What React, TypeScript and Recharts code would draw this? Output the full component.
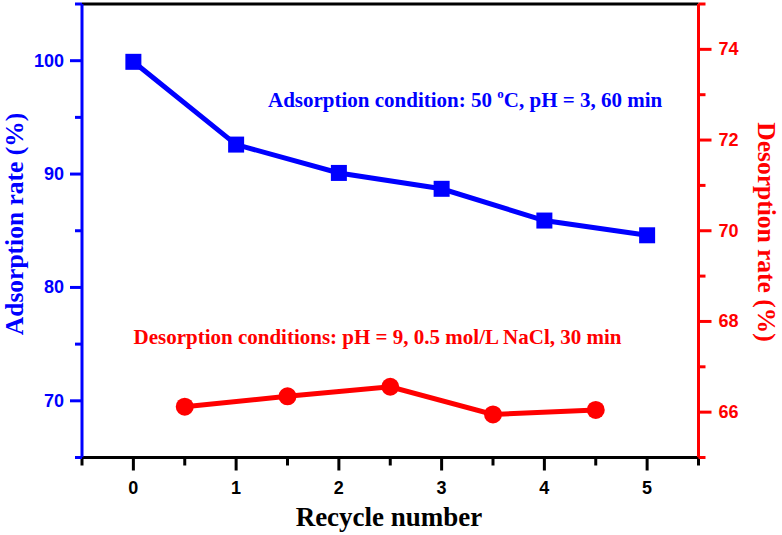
import { ComposedChart, XAxis, YAxis, Line, ReferenceLine } from "recharts";

// recycle test: adsorption (left axis) and desorption (right axis)
const cycles = [0, 1, 2, 3, 4, 5];
const adsorptionRate = [99.9, 92.6, 90.1, 88.7, 85.9, 84.6];
const desorptionCycles = [0.5, 1.5, 2.5, 3.5, 4.5];
const desorptionRate = [66.12, 66.35, 66.56, 65.95, 66.05];

const xTicks = [-0.5, 0, 0.5, 1, 1.5, 2, 2.5, 3, 3.5, 4, 4.5, 5, 5.5];
const xLabels = [0, 1, 2, 3, 4, 5];
const leftTicks = [65, 70, 75, 80, 85, 90, 95, 100, 105];
const leftLabels = [70, 80, 90, 100];
const rightTicks = [65, 66, 67, 68, 69, 70, 71, 72, 73, 74, 75];
const rightLabels = [66, 68, 70, 72, 74];

const BLUE = "#0000ff";
const RED = "#ff0000";
const SERIF = "'Liberation Serif', 'Times New Roman', serif";
const SANS = "'Liberation Sans', Arial, sans-serif";

const adsorptionData = cycles.map((x, i) => ({ x, value: adsorptionRate[i] }));
const desorptionData = desorptionCycles.map((x, i) => ({ x, value: desorptionRate[i] }));

const tickText = { fontFamily: SANS, fontWeight: 700, fontSize: 18 };

const XTick = (props: any) => {
  const { x, y, payload } = props;
  const major = xLabels.includes(payload.value);
  return (
    <g>
      <line x1={x} y1={y} x2={x} y2={y + (major ? 13 : 8)} stroke="#000" strokeWidth={3} />
      {major && (
        <text x={x} y={y + 30} textAnchor="middle" dominantBaseline="central" fill="#000" {...tickText}>
          {payload.value}
        </text>
      )}
    </g>
  );
};

const LeftTick = (props: any) => {
  const { x, y, payload } = props;
  const major = leftLabels.includes(payload.value);
  return (
    <g>
      <line x1={x} y1={y} x2={x - (major ? 12 : 7)} y2={y} stroke={BLUE} strokeWidth={3} />
      {major && (
        <text x={x - 18} y={y} textAnchor="end" dominantBaseline="central" fill={BLUE} {...tickText}>
          {payload.value}
        </text>
      )}
    </g>
  );
};

const RightTick = (props: any) => {
  const { x, y, payload } = props;
  const major = rightLabels.includes(payload.value);
  return (
    <g>
      <line x1={x} y1={y} x2={x + (major ? 13 : 7)} y2={y} stroke={RED} strokeWidth={3} />
      {major && (
        <text x={x + 20} y={y} textAnchor="start" dominantBaseline="central" fill={RED} {...tickText}>
          {payload.value}
        </text>
      )}
    </g>
  );
};

const SquareDot = (props: any) => {
  const { cx, cy, index } = props;
  return <rect key={`sq-${index}`} x={cx - 8} y={cy - 8} width={16} height={16} fill={BLUE} />;
};

const CircleDot = (props: any) => {
  const { cx, cy, index } = props;
  return <circle key={`ci-${index}`} cx={cx} cy={cy} r={9} fill={RED} />;
};

export default function App() {
  return (
    <div style={{ position: "absolute", left: 0, top: 0, width: 782, height: 535, background: "#fff" }}>
      <ComposedChart width={782} height={535} margin={{ top: 4, right: 0, bottom: 0, left: 0 }}>
        <XAxis
          dataKey="x"
          type="number"
          domain={[-0.5, 5.5]}
          ticks={xTicks}
          interval={0}
          height={77.5}
          tickSize={0}
          tickMargin={0}
          tickLine={false}
          axisLine={{ stroke: "#000", strokeWidth: 3 }}
          tick={XTick}
        />
        <YAxis
          yAxisId="left"
          orientation="left"
          type="number"
          domain={[65, 105]}
          ticks={leftTicks}
          interval={0}
          width={82}
          tickSize={0}
          tickMargin={0}
          tickLine={false}
          axisLine={{ stroke: BLUE, strokeWidth: 3 }}
          tick={LeftTick}
        />
        <YAxis
          yAxisId="right"
          orientation="right"
          type="number"
          domain={[65, 75]}
          ticks={rightTicks}
          interval={0}
          width={83.5}
          tickSize={0}
          tickMargin={0}
          tickLine={false}
          axisLine={{ stroke: RED, strokeWidth: 3 }}
          tick={RightTick}
        />
        <ReferenceLine yAxisId="left" y={105} stroke="#000" strokeWidth={3} />
        <Line
          yAxisId="left"
          data={adsorptionData}
          dataKey="value"
          stroke={BLUE}
          strokeWidth={5}
          dot={SquareDot}
          activeDot={false}
          isAnimationActive={false}
        />
        <Line
          yAxisId="right"
          data={desorptionData}
          dataKey="value"
          stroke={RED}
          strokeWidth={5}
          dot={CircleDot}
          activeDot={false}
          isAnimationActive={false}
        />
        <text x={268} y={107} fill={BLUE} fontFamily={SERIF} fontWeight={700} fontSize={21}>
          Adsorption condition: 50{" "}
          <tspan fontSize={13} dy={-9}>o</tspan>
          <tspan dy={9}>C, pH = 3, 60 min</tspan>
        </text>
        <text x={133.5} y={344} fill={RED} fontFamily={SERIF} fontWeight={700} fontSize={21}>
          Desorption conditions: pH = 9, 0.5 mol/L NaCl, 30 min
        </text>
        <text
          x={14.5}
          y={224}
          transform="rotate(-90 14.5 224)"
          textAnchor="middle"
          dominantBaseline="central"
          fill={BLUE}
          fontFamily={SERIF}
          fontWeight={700}
          fontSize={25.5}
        >
          Adsorption rate (%)
        </text>
        <text
          x={766}
          y={232}
          transform="rotate(90 766 232)"
          textAnchor="middle"
          dominantBaseline="central"
          fill={RED}
          fontFamily={SERIF}
          fontWeight={700}
          fontSize={25.5}
        >
          Desorption rate (%)
        </text>
        <text x={389} y={526} textAnchor="middle" fill="#000" fontFamily={SERIF} fontWeight={700} fontSize={27}>
          Recycle number
        </text>
      </ComposedChart>
    </div>
  );
}
